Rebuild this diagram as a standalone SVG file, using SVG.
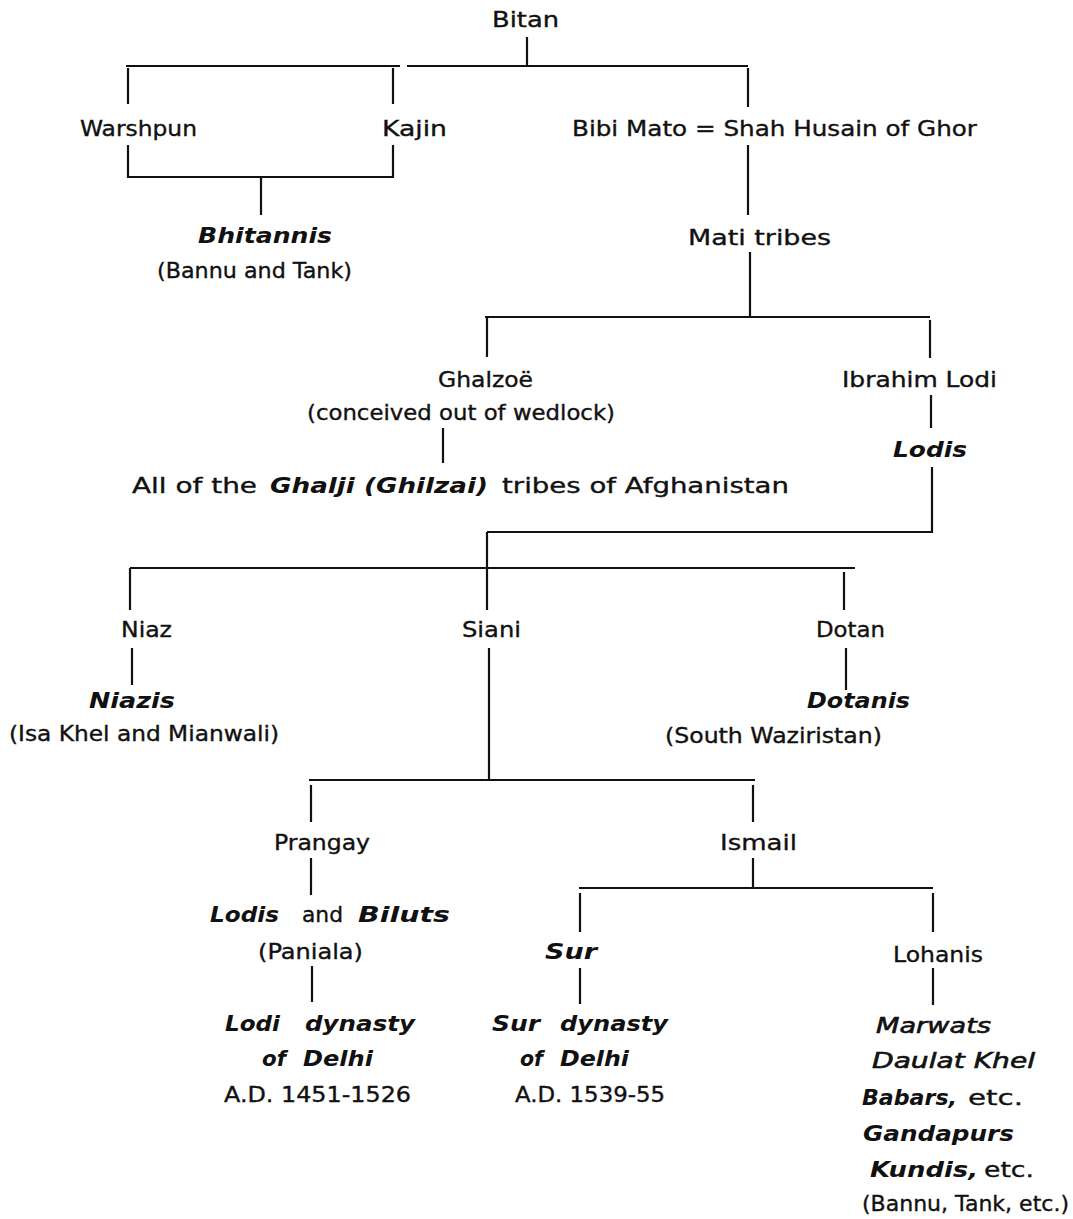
<svg xmlns="http://www.w3.org/2000/svg" width="1073" height="1219" viewBox="0 0 1073 1219">
<style>
text{font-family:"DejaVu Sans","Liberation Sans",sans-serif;font-size:21px;fill:#111;stroke:#111;stroke-width:0.35}
.bi{font-weight:bold;font-style:italic;stroke-width:0}
.i{font-style:italic;stroke-width:0.6}
.c path{stroke:#111;stroke-width:2.2;fill:none}
</style>
<rect width="1073" height="1219" fill="#fff"/>
<g class="c" id="connectors">
<path d="M527,37V67M126,66H400M407,66H748M128,68V104M393,68V104M748,68V107M128,145V178M393,145V178M128,177H393M261,177V215M748,145V215M750,252V318M485,317H930M487,318V357M930,320V358M443,428V463M931,395V428M932,467V533M487,532H933M487,532V610M130,568H855M130,568V610M844,572V610M132,648V685M846,648V690M489,648V780M309,780H755M311,785V822M753,785V822M311,858V895M312,966V1002M753,858V889M579,888H933M580,893V932M933,893V932M580,968V1004M933,968V1005"/>
</g>
<g id="bitan"><text x="492" y="27" textLength="67" lengthAdjust="spacingAndGlyphs">Bitan</text></g>
<g id="warshpun"><text x="80" y="136" textLength="117" lengthAdjust="spacingAndGlyphs">Warshpun</text></g>
<g id="kajin"><text x="382" y="136" textLength="65" lengthAdjust="spacingAndGlyphs">Kajin</text></g>
<g id="bibimato"><text x="572" y="136" textLength="405" lengthAdjust="spacingAndGlyphs">Bibi Mato = Shah Husain of Ghor</text></g>
<g id="bhitannis">
<text class="bi" x="198" y="243" textLength="134" lengthAdjust="spacingAndGlyphs">Bhitannis</text>
<text x="157" y="278" textLength="195" lengthAdjust="spacingAndGlyphs">(Bannu and Tank)</text>
</g>
<g id="mati"><text x="688" y="245" textLength="143" lengthAdjust="spacingAndGlyphs">Mati tribes</text></g>
<g id="ghalzoe">
<text x="438" y="387" textLength="95" lengthAdjust="spacingAndGlyphs">Ghalzoë</text>
<text x="307" y="420" textLength="308" lengthAdjust="spacingAndGlyphs">(conceived out of wedlock)</text>
</g>
<g id="ghalji">
<text x="132" y="493" textLength="125" lengthAdjust="spacingAndGlyphs">All of the</text>
<text class="bi" x="270" y="493" textLength="218" lengthAdjust="spacingAndGlyphs">Ghalji (Ghilzai)</text>
<text x="502" y="493" textLength="287" lengthAdjust="spacingAndGlyphs">tribes of Afghanistan</text>
</g>
<g id="ibrahim"><text x="842" y="387" textLength="155" lengthAdjust="spacingAndGlyphs">Ibrahim Lodi</text></g>
<g id="lodis"><text class="bi" x="893" y="457" textLength="74" lengthAdjust="spacingAndGlyphs">Lodis</text></g>
<g id="niaz"><text x="121" y="637" textLength="51" lengthAdjust="spacingAndGlyphs">Niaz</text></g>
<g id="siani"><text x="462" y="637" textLength="59" lengthAdjust="spacingAndGlyphs">Siani</text></g>
<g id="dotan"><text x="816" y="637" textLength="69" lengthAdjust="spacingAndGlyphs">Dotan</text></g>
<g id="niazis">
<text class="bi" x="89" y="708" textLength="86" lengthAdjust="spacingAndGlyphs">Niazis</text>
<text x="9" y="741" textLength="270" lengthAdjust="spacingAndGlyphs">(Isa Khel and Mianwali)</text>
</g>
<g id="dotanis">
<text class="bi" x="807" y="708" textLength="103" lengthAdjust="spacingAndGlyphs">Dotanis</text>
<text x="665" y="743" textLength="217" lengthAdjust="spacingAndGlyphs">(South Waziristan)</text>
</g>
<g id="prangay"><text x="274" y="850" textLength="96" lengthAdjust="spacingAndGlyphs">Prangay</text></g>
<g id="ismail"><text x="720" y="850" textLength="77" lengthAdjust="spacingAndGlyphs">Ismail</text></g>
<g id="lodisbiluts">
<text class="bi" x="210" y="922" textLength="69" lengthAdjust="spacingAndGlyphs">Lodis</text>
<text x="302" y="922" textLength="41" lengthAdjust="spacingAndGlyphs">and</text>
<text class="bi" x="358" y="922" textLength="92" lengthAdjust="spacingAndGlyphs">Biluts</text>
<text x="258" y="959" textLength="105" lengthAdjust="spacingAndGlyphs">(Paniala)</text>
</g>
<g id="lodidynasty">
<text class="bi" x="225" y="1031" textLength="55" lengthAdjust="spacingAndGlyphs">Lodi</text>
<text class="bi" x="305" y="1031" textLength="110" lengthAdjust="spacingAndGlyphs">dynasty</text>
<text class="bi" x="262" y="1066" textLength="24" lengthAdjust="spacingAndGlyphs">of</text>
<text class="bi" x="303" y="1066" textLength="70" lengthAdjust="spacingAndGlyphs">Delhi</text>
<text x="224" y="1102" textLength="187" lengthAdjust="spacingAndGlyphs">A.D. 1451-1526</text>
</g>
<g id="sur"><text class="bi" x="545" y="959" textLength="52" lengthAdjust="spacingAndGlyphs">Sur</text></g>
<g id="surdynasty">
<text class="bi" x="492" y="1031" textLength="48" lengthAdjust="spacingAndGlyphs">Sur</text>
<text class="bi" x="560" y="1031" textLength="108" lengthAdjust="spacingAndGlyphs">dynasty</text>
<text class="bi" x="520" y="1066" textLength="23" lengthAdjust="spacingAndGlyphs">of</text>
<text class="bi" x="560" y="1066" textLength="69" lengthAdjust="spacingAndGlyphs">Delhi</text>
<text x="515" y="1102" textLength="150" lengthAdjust="spacingAndGlyphs">A.D. 1539-55</text>
</g>
<g id="lohanis"><text x="893" y="962" textLength="90" lengthAdjust="spacingAndGlyphs">Lohanis</text></g>
<g id="lohanis-tribes">
<text class="i" x="876" y="1033" textLength="115" lengthAdjust="spacingAndGlyphs">Marwats</text>
<text class="i" x="872" y="1068" textLength="163" lengthAdjust="spacingAndGlyphs">Daulat Khel</text>
<text class="bi" x="862" y="1105" textLength="95" lengthAdjust="spacingAndGlyphs">Babars,</text>
<text x="968" y="1105" textLength="55" lengthAdjust="spacingAndGlyphs">etc.</text>
<text class="bi" x="863" y="1141" textLength="151" lengthAdjust="spacingAndGlyphs">Gandapurs</text>
<text class="bi" x="870" y="1177" textLength="108" lengthAdjust="spacingAndGlyphs">Kundis,</text>
<text x="984" y="1177" textLength="50" lengthAdjust="spacingAndGlyphs">etc.</text>
<text x="862" y="1211" textLength="207" lengthAdjust="spacingAndGlyphs">(Bannu, Tank, etc.)</text>
</g>
</svg>
